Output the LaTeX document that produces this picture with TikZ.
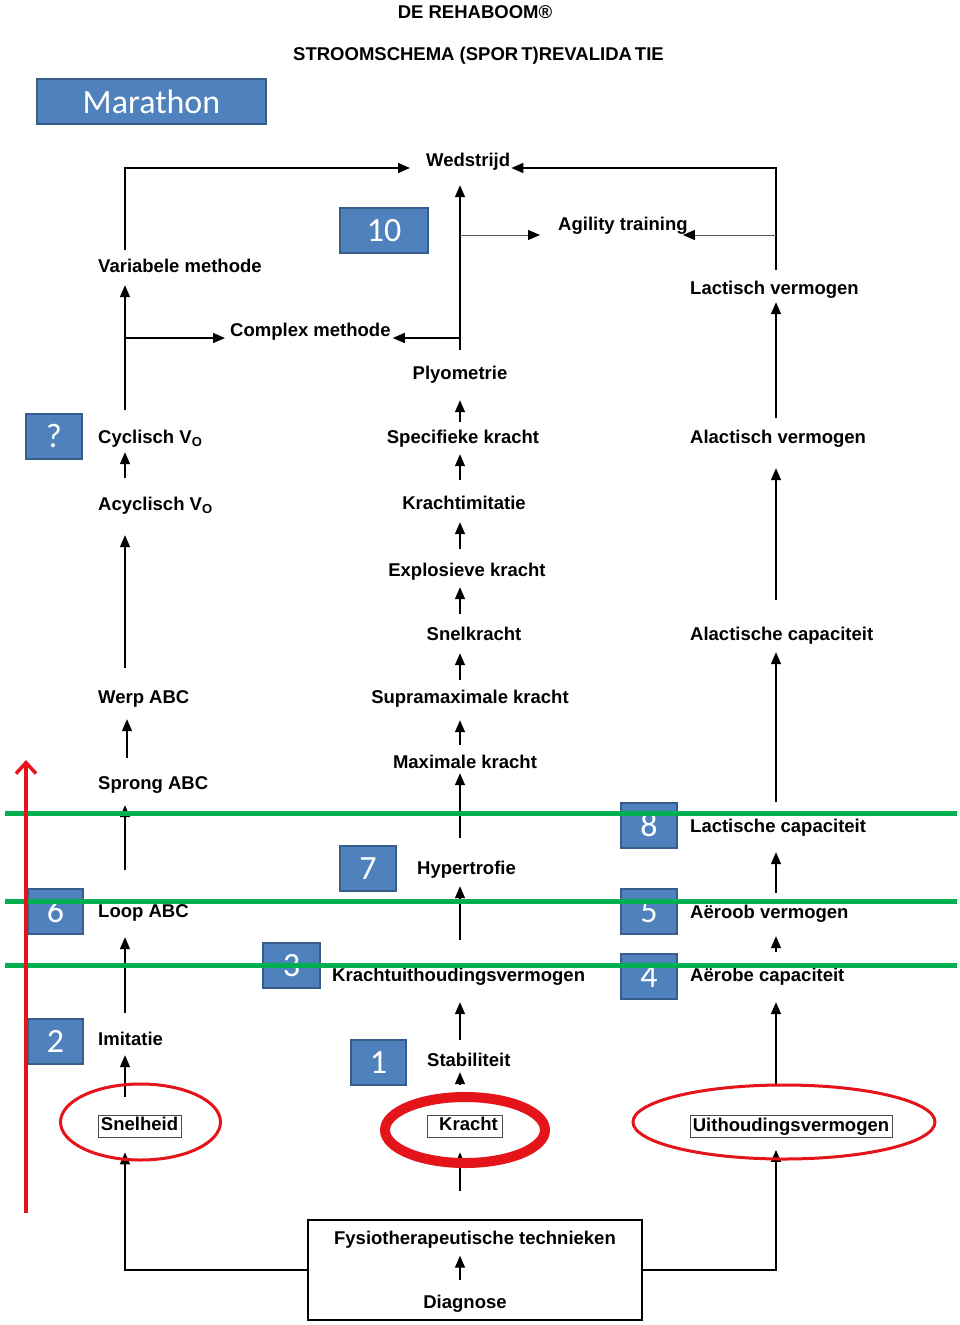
\documentclass[tikz,border=0pt]{standalone}
\usepackage{fontspec}
\setmainfont{Liberation Sans}
\newfontfamily\calib{Carlito}
\usetikzlibrary{arrows.meta,calc}
\definecolor{boxblue}{RGB}{79,129,189}
\definecolor{boxedge}{RGB}{56,93,138}
\definecolor{lgreen}{RGB}{0,176,80}
\definecolor{lred}{RGB}{228,20,26}
\begin{document}
\begin{tikzpicture}[x=1pt,y=-1pt,
 lbl/.style={font=\bfseries\fontsize{18.5}{22}\selectfont, inner sep=0pt, text height=12.5pt, text depth=3.5pt},
 fbox/.style={lbl, draw=black!70, line width=0.8pt, inner xsep=2pt, minimum height=22pt},
 nbox/.style={fill=boxblue, draw=boxedge, line width=2pt, text=white, font=\calib\fontsize{34}{34}\selectfont, inner sep=0pt, minimum height=45pt},
 arr/.style={line width=1.4pt, -{Triangle[length=12pt,width=10pt]}},
 thinarr/.style={line width=0.8pt, draw=black!65, -{Triangle[length=12pt,width=10pt,color=black,fill=black]}},
 redell/.style={draw=lred, line width=3pt}
]
\useasboundingbox (0,0) rectangle (960,1325);
\fill[white] (0,0) rectangle (960,1325);

% titles
\node[lbl, anchor=base] (t1) at (475,18) {DE REHABOOM®};
\node[lbl, anchor=base] (t2) at (478.5,60) {STROOMSCHEMA (SPOR\kern3pt T)REVALIDA\kern3pt TIE};

% column coordinates
\coordinate (L) at (125,0);
\coordinate (C) at (460,0);
\coordinate (R) at (776,0);
\coordinate (agy) at (0,235);

% left column
\node[lbl, anchor=base west] (var) at (98,272) {Variabele methode};
\node[lbl, anchor=base west] (cyc) at (98,443) {Cyclisch V\raisebox{-3pt}{\fontsize{13}{13}\selectfont O}};
\node[lbl, anchor=base west] (acyc) at (98,510) {Acyclisch V\raisebox{-3pt}{\fontsize{13}{13}\selectfont O}};
\node[lbl, anchor=base west] (werp) at (98,703) {Werp ABC};
\node[lbl, anchor=base west] (sprong) at (98,789) {Sprong ABC};
\node[lbl, anchor=base west] (loop) at (98,917) {Loop ABC};
\node[lbl, anchor=base west] (imit) at (98,1045) {Imitatie};
\node[fbox, minimum width=83pt] (snel) at (139.5,1126) {Snelheid};

% center column
\node[lbl, anchor=base west] (wed) at (426,166) {Wedstrijd};
\node[lbl, anchor=base west] (complex) at (230,336) {Complex methode};
\node[lbl, anchor=base west] (agility) at (558,230) {Agility training};
\node[lbl, anchor=base] (plyo) at (460,379) {Plyometrie};
\node[lbl, anchor=base] (spec) at (463,443) {Specifieke kracht};
\node[lbl, anchor=base] (kimit) at (464,509) {Krachtimitatie};
\node[lbl, anchor=base] (explo) at (467,576) {Explosieve kracht};
\node[lbl, anchor=base] (snelk) at (474,640) {Snelkracht};
\node[lbl, anchor=base] (supra) at (470,703) {Supramaximale kracht};
\node[lbl, anchor=base] (maxk) at (465,768) {Maximale kracht};
\node[lbl, anchor=base west] (hyper) at (417,874) {Hypertrofie};
\node[lbl, anchor=base west] (kuith) at (332,981) {Krachtuithoudingsvermogen};
\node[lbl, anchor=base west] (stab) at (427,1066) {Stabiliteit};
\node[fbox, minimum width=75pt] (kracht) at (464.5,1126) {\kern8pt Kracht};

% right column
\node[lbl, anchor=base west] (lverm) at (690,294) {Lactisch vermogen};
\node[lbl, anchor=base west] (alverm) at (690,443) {Alactisch vermogen};
\node[lbl, anchor=base west] (alcap) at (690,640) {Alactische capaciteit};
\node[lbl, anchor=base west] (lcap) at (690,832) {Lactische capaciteit};
\node[lbl, anchor=base west] (averm) at (690,918) {Aëroob vermogen};
\node[lbl, anchor=base west] (acap) at (690,981) {Aërobe capaciteit};
\node[fbox, minimum width=202pt] (uith) at (791,1126.5) {Uithoudingsvermogen};

% bottom box
\node[draw, line width=1.5pt, minimum width=334pt, minimum height=100pt, inner sep=0pt] (bot) at (475,1270) {};
\node[lbl, anchor=base] (fysio) at (475,1244) {Fysiotherapeutische technieken};
\node[lbl, anchor=base] (diag) at (465,1308) {Diagnose};
\draw[arr, shorten <=15pt, shorten >=8pt] (diag.north -| C) -- (fysio.south -| C);

% left column arrows
\draw[arr, shorten <=18pt, shorten >=6.5pt] (snel.north -| L) -- (imit.south -| L);
\draw[arr, shorten <=19.5pt, shorten >=16.5pt] (imit.north -| L) -- (loop.south -| L);
\draw[arr, shorten <=34.5pt, shorten >=12.5pt] (loop.north -| L) -- (sprong.south -| L);
\draw[arr, shorten <=18.5pt, shorten >=12.5pt] ([xshift=2pt]sprong.north -| L) -- ([xshift=2pt]werp.south -| L);
\draw[arr, shorten <=22.5pt, shorten >=21.5pt] (werp.north -| L) -- (acyc.south -| L);
\draw[arr, shorten <=19.5pt, shorten >=5.5pt] (acyc.north -| L) -- (cyc.south -| L);
\draw[arr, shorten <=20.5pt, shorten >=9.5pt] (cyc.north -| L) -- (var.south -| L);
\draw[arr, shorten >=5pt] ([yshift=-2pt]L |- complex.base) -- ([yshift=-2pt]complex.base west);
\draw[arr] ([yshift=9.5pt]var.north -| L) |- ([xshift=-16pt,yshift=-2pt]wed.base west);

% center column arrows
\draw[arr, shorten <=16.5pt, shorten >=15.5pt] (plyo.north -| C) -- (wed.south -| C);
\draw[arr, shorten >=2pt] ([yshift=-2pt]C |- complex.base) -- ([yshift=-2pt]complex.base east);
\draw[thinarr, shorten >=18pt] (C |- agy) -- (agility.west |- agy);
\draw[arr, shorten <=8.5pt, shorten >=17.5pt] (spec.north -| C) -- (plyo.south -| C);
\draw[arr, shorten <=16.5pt, shorten >=7.5pt] (kimit.north -| C) -- (spec.south -| C);
\draw[arr, shorten <=14.5pt, shorten >=9.5pt] (explo.north -| C) -- (kimit.south -| C);
\draw[arr, shorten <=13.5pt, shorten >=7.5pt] (snelk.north -| C) -- (explo.south -| C);
\draw[arr, shorten <=10.5pt, shorten >=9.5pt] (supra.north -| C) -- (snelk.south -| C);
\draw[arr, shorten <=10.5pt, shorten >=13.5pt] (maxk.north -| C) -- (supra.south -| C);
\draw[arr, shorten <=23.5pt, shorten >=1.5pt] (hyper.north -| C) -- (maxk.south -| C);
\draw[arr, shorten <=28.5pt, shorten >=8.5pt] (kuith.north -| C) -- (hyper.south -| C);
\draw[arr, shorten <=13.5pt, shorten >=17.5pt] (stab.north -| C) -- (kuith.south -| C);
\draw[arr, shorten <=30pt, shorten >=2.5pt] (kracht.north -| C) -- (stab.south -| C);

% right column arrows
\draw[arr] ([yshift=11.5pt]lverm.north -| R) |- ([xshift=1pt,yshift=-2pt]wed.base east);
\draw[thinarr, shorten >=-5pt] (R |- agy) -- (agility.east |- agy);
\draw[arr, shorten <=12.5pt, shorten >=4.5pt] (alverm.north -| R) -- (lverm.south -| R);
\draw[arr, shorten <=27.5pt, shorten >=21.5pt] (alcap.north -| R) -- (alverm.south -| R);
\draw[arr, shorten <=17.5pt, shorten >=8.5pt] (lcap.north -| R) -- (alcap.south -| R);
\draw[arr, shorten <=12.5pt, shorten >=16.5pt] (averm.north -| R) -- (lcap.south -| R);
\draw[arr, shorten <=16.5pt, shorten >=14.5pt] (acap.north -| R) -- (averm.south -| R);
\draw[arr, shorten <=30pt, shorten >=17.5pt] (uith.north -| R) -- (acap.south -| R);

% bottom connectors
\draw[arr] (bot.west) -| ([yshift=-15pt]snel.south -| L);
\draw[arr] (bot.east) -| ([yshift=-12pt]uith.south -| R);
\draw[arr] ([yshift=28pt]bot.north -| C) -- ([yshift=-15pt]kracht.south -| C);

% blue number boxes
\node[nbox, minimum width=229pt] (mar) at (151.5,101.5) {Marathon};
\node[nbox, minimum width=88pt] (b10) at (384,230.5) {10};
\node[nbox, minimum width=56pt] (bq) at (54,436) {?};
\node[nbox, minimum width=56pt] (b8) at (649,825.5) {8};
\node[nbox, minimum width=56pt] (b7) at (368,868.5) {7};
\node[nbox, minimum width=55pt] (b6) at (55.5,911.5) {6};
\node[nbox, minimum width=56pt] (b5) at (649,911.5) {5};
\node[nbox, minimum width=57pt] (b3) at (291.5,965.5) {3};
\node[nbox, minimum width=56pt] (b4) at (649,976.5) {4};
\node[nbox, minimum width=55pt] (b2) at (55.5,1041.5) {2};
\node[nbox, minimum width=55pt] (b1) at (378.5,1062.5) {1};

% red ellipses
\draw[redell] ([shift={(1,-4)}]snel.center) ellipse [x radius=80pt, y radius=38pt];
\draw[redell] ([shift={(-7,-4.5)}]uith.center) ellipse [x radius=151pt, y radius=37pt];
\draw[draw=lred, line width=10pt] ([shift={(0.5,4)}]kracht.center) ellipse [x radius=80pt, y radius=33pt];

% green lines
\coordinate (gl) at (5,0);
\coordinate (gr) at (957,0);
\draw[lgreen, line width=5pt] (gl |- b8.north) ++(0,11) coordinate (g1) -- (g1 -| gr);
\draw[lgreen, line width=5pt] (gl |- b6.center) ++(0,-10.5) coordinate (g2) -- (g2 -| gr);
\draw[lgreen, line width=5pt] (gl |- b3.center) coordinate (g3) -- (g3 -| gr);

% red arrow
\coordinate (rb) at (26,1213);
\coordinate (rt) at (26,760);
\draw[lred, line width=3.5pt, -{Straight Barb[length=11pt,width=20pt]}] (rb) -- (rt);
\end{tikzpicture}
\end{document}
